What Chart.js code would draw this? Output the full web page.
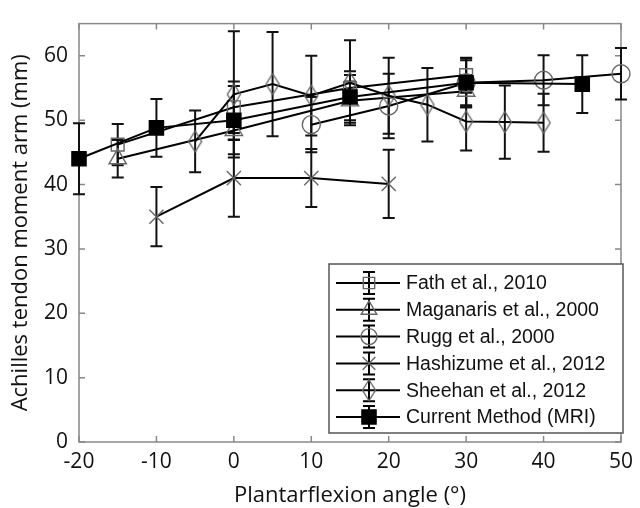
<!DOCTYPE html>
<html><head><meta charset="utf-8">
<script src="https://cdn.jsdelivr.net/npm/chart.js@4/dist/chart.umd.min.js"></script>
<style>html,body{margin:0;padding:0;background:#fff;}#wrap{width:640px;height:508px;position:relative;}</style>
</head><body><div id="wrap"><canvas id="c" width="640" height="508"></canvas></div>
<script>
// ---- data ----
const xTickValues = [-20, -10, 0, 10, 20, 30, 40, 50];
const yTickValues = [0, 10, 20, 30, 40, 50, 60];

const fathAngles = [-15, 0, 15, 30];
const fathValues = [46.2, 52.0, 55.0, 57.0];
const fathErr = [3.2, 4.0, 2.0, 2.7];

const maganarisAngles = [-15, 0, 15, 30];
const maganarisValues = [44.0, 48.4, 53.0, 54.5];
const maganarisErr = [2.9, 1.5, 3.0, 2.5];

const ruggAngles = [10, 20, 30, 40, 50];
const ruggValues = [49.3, 52.2, 55.8, 56.2, 57.2];
const ruggErr = [4.3, 5.0, 3.8, 3.9, 4.0];

const hashizumeAngles = [-10, 0, 10, 20];
const hashizumeValues = [35.0, 41.0, 41.0, 40.1];
const hashizumeErr = [4.6, 6.0, 4.5, 5.3];

const sheehanAngles = [-5, 0, 5, 10, 15, 20, 25, 30, 35, 40];
const sheehanValues = [46.7, 54.0, 55.6, 53.8, 55.8, 53.8, 52.4, 49.8, 49.7, 49.6];
const sheehanErr = [4.8, 9.8, 8.1, 6.2, 6.6, 5.9, 5.7, 4.5, 5.7, 4.5];

const currentAngles = [-20, -10, 0, 15, 30, 45];
const currentValues = [44.0, 48.8, 50.0, 53.6, 55.8, 55.6];
const currentErr = [5.5, 4.5, 5.3, 4.0, 3.5, 4.5];

const seriesLabels = ['Fath et al., 2010', 'Maganaris et al., 2000', 'Rugg et al., 2000',
  'Hashizume et al., 2012', 'Sheehan et al., 2012', 'Current Method (MRI)'];

// ---- styles ----
const MARK = '#666';
function diamondCanvas(){
  const c = document.createElement('canvas');
  c.width = 16; c.height = 24;
  const g = c.getContext('2d');
  g.strokeStyle = MARK; g.lineWidth = 1.4;
  g.beginPath(); g.moveTo(8, 1.5); g.lineTo(14.5, 12); g.lineTo(8, 22.5); g.lineTo(1.5, 12); g.closePath(); g.stroke();
  return c;
}
const diamond = diamondCanvas();

function mk(label, xs, ys, errs, style, radius, fill, border, order){
  return {
    label, data: xs.map((x, i) => ({x: x, y: ys[i]})), errors: errs,
    showLine: true, borderColor: '#000', borderWidth: 2, tension: 0,
    pointStyle: style, pointRadius: radius, pointHoverRadius: radius,
    pointBackgroundColor: fill, pointBorderColor: border, pointBorderWidth: 1.4,
    clip: false, order: order
  };
}

const datasets = [
  mk(seriesLabels[0], fathAngles, fathValues, fathErr, 'rect', 9, 'rgba(0,0,0,0)', MARK, 6),
  mk(seriesLabels[1], maganarisAngles, maganarisValues, maganarisErr, 'triangle', 10, 'rgba(0,0,0,0)', MARK, 5),
  mk(seriesLabels[2], ruggAngles, ruggValues, ruggErr, 'circle', 9, 'rgba(0,0,0,0)', MARK, 4),
  mk(seriesLabels[3], hashizumeAngles, hashizumeValues, hashizumeErr, 'crossRot', 10, 'rgba(0,0,0,0)', MARK, 3),
  mk(seriesLabels[4], sheehanAngles, sheehanValues, sheehanErr, diamond, 10, 'rgba(0,0,0,0)', MARK, 2),
  mk(seriesLabels[5], currentAngles, currentValues, currentErr, 'rect', 10, '#000', '#000', 1)
];

function drawMarker(ctx, style, x, y, r, fill, stroke){
  ctx.save();
  ctx.lineWidth = 1.4; ctx.strokeStyle = stroke; ctx.fillStyle = fill;
  ctx.beginPath();
  if (style === 'rect') { const s = r * Math.SQRT1_2; ctx.rect(x - s, y - s, 2 * s, 2 * s); }
  else if (style === 'circle') { ctx.arc(x, y, r, 0, Math.PI * 2); }
  else if (style === 'triangle') {
    ctx.moveTo(x, y - r); ctx.lineTo(x + r * 0.866, y + r * 0.5); ctx.lineTo(x - r * 0.866, y + r * 0.5); ctx.closePath();
  } else if (style === 'crossRot') {
    const s = r * Math.SQRT1_2;
    ctx.moveTo(x - s, y - s); ctx.lineTo(x + s, y + s); ctx.moveTo(x - s, y + s); ctx.lineTo(x + s, y - s);
  } else {
    ctx.drawImage(style, x - style.width / 2, y - style.height / 2);
    ctx.restore(); return;
  }
  if (fill !== 'rgba(0,0,0,0)') ctx.fill();
  ctx.stroke();
  ctx.restore();
}

const plotPlugin = {
  id: 'plotDecor',
  beforeDatasetsDraw(chart){
    const ctx = chart.ctx, a = chart.chartArea, xs = chart.scales.x, ys = chart.scales.y;
    ctx.save();
    // frame
    ctx.strokeStyle = '#888'; ctx.lineWidth = 1.5;
    ctx.strokeRect(a.left, a.top, a.right - a.left, a.bottom - a.top);
    ctx.beginPath();
    xTickValues.forEach(v => {
      const px = xs.getPixelForValue(v);
      ctx.moveTo(px, a.bottom); ctx.lineTo(px, a.bottom - 6);
      ctx.moveTo(px, a.top); ctx.lineTo(px, a.top + 6);
    });
    yTickValues.forEach(v => {
      const py = ys.getPixelForValue(v);
      ctx.moveTo(a.left, py); ctx.lineTo(a.left + 6, py);
      ctx.moveTo(a.right, py); ctx.lineTo(a.right - 6, py);
    });
    ctx.stroke();
    // error bars
    ctx.strokeStyle = '#111'; ctx.lineWidth = 2;
    chart.data.datasets.forEach(ds => {
      ds.data.forEach((p, i) => {
        const e = ds.errors[i];
        const px = xs.getPixelForValue(p.x);
        const y1 = ys.getPixelForValue(p.y + e), y2 = ys.getPixelForValue(p.y - e);
        ctx.beginPath();
        ctx.moveTo(px, y1); ctx.lineTo(px, y2);
        ctx.moveTo(px - 6, y1); ctx.lineTo(px + 6, y1);
        ctx.moveTo(px - 6, y2); ctx.lineTo(px + 6, y2);
        ctx.stroke();
      });
    });
    ctx.restore();
  },
  afterDraw(chart){
    const ctx = chart.ctx;
    const box = {l: 329, t: 264, r: 623, b: 433};
    ctx.save();
    ctx.fillStyle = '#fff';
    ctx.fillRect(box.l, box.t, box.r - box.l, box.b - box.t);
    ctx.strokeStyle = '#555'; ctx.lineWidth = 1.5;
    ctx.strokeRect(box.l, box.t, box.r - box.l, box.b - box.t);
    ctx.font = '19.5px "Liberation Sans", Arial, sans-serif';
    ctx.textBaseline = 'middle'; ctx.textAlign = 'left';
    chart.data.datasets.forEach((ds, i) => {
      const y = 283 + i * 26.8, cx = 369;
      ctx.strokeStyle = '#000'; ctx.lineWidth = 2;
      ctx.beginPath();
      ctx.moveTo(336, y); ctx.lineTo(400, y);
      ctx.moveTo(cx, y - 11); ctx.lineTo(cx, y + 11);
      ctx.moveTo(cx - 6, y - 11); ctx.lineTo(cx + 6, y - 11);
      ctx.moveTo(cx - 6, y + 11); ctx.lineTo(cx + 6, y + 11);
      ctx.stroke();
      drawMarker(ctx, ds.pointStyle, cx, y, i === 5 ? 10 : (i === 1 || i === 3 ? 9 : 8), ds.pointBackgroundColor, ds.pointBorderColor);
      ctx.fillStyle = '#111';
      ctx.fillText(ds.label, 406, y + 1);
    });
    ctx.restore();
  }
};

const tickFont = {family: '"Open Sans", sans-serif', size: 21};
const titleFont = {family: '"Open Sans", sans-serif', size: 22};

new Chart(document.getElementById('c'), {
  type: 'scatter',
  data: {datasets: datasets},
  options: {
    responsive: false, animation: false, devicePixelRatio: 1,
    layout: {padding: {left: 0, right: 14, top: 14, bottom: 0}},
    plugins: {legend: {display: false}, tooltip: {enabled: false}},
    scales: {
      x: {
        type: 'linear', min: -20, max: 50,
        afterBuildTicks: s => { s.ticks = xTickValues.map(v => ({value: v})); },
        afterFit: s => { s.height = 66; },
        grid: {display: false, drawTicks: false}, border: {display: false},
        ticks: {font: tickFont, color: '#111', padding: 7, maxRotation: 0, autoSkip: false},
        title: {display: true, text: 'Plantarflexion angle (°)', font: titleFont, color: '#111', padding: {top: 0, bottom: -1}}
      },
      y: {
        type: 'linear', min: 0, max: 65,
        afterBuildTicks: s => { s.ticks = yTickValues.map(v => ({value: v})); },
        afterFit: s => { s.width = 79; },
        grid: {display: false, drawTicks: false}, border: {display: false},
        ticks: {font: tickFont, color: '#111', padding: 11, autoSkip: false},
        title: {display: true, text: 'Achilles tendon moment arm (mm)', font: titleFont, color: '#111', padding: {top: 8, bottom: 0}}
      }
    }
  },
  plugins: [plotPlugin]
});
</script></body></html>
